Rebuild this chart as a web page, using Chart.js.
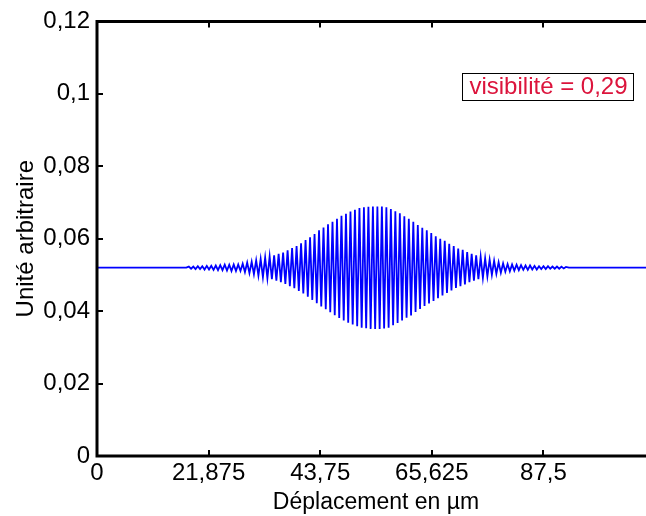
<!DOCTYPE html>
<html>
<head>
<meta charset="utf-8">
<script src="https://cdn.jsdelivr.net/npm/chart.js@4"></script>
<style>
  html, body { margin:0; padding:0; background:#fff; overflow:hidden; }
  #wrap { width:646px; height:516px; overflow:hidden; }
  canvas { display:block; }
</style>
</head>
<body>
<div id="wrap"><canvas id="c" width="660" height="516"></canvas></div>
<script>
/* global Chart */

// ---------- DATA ----------
// axis ticks (the plot is cut on the right, 109,375 falls outside the picture)
const xTicks      = [0, 21.875, 43.75, 65.625, 87.5, 109.375];
const xTickLabels = ['0', '21,875', '43,75', '65,625', '87,5', ''];
const yTicks      = [0, 0.02, 0.04, 0.06, 0.08, 0.1, 0.12];
const yTickLabels = ['0', '0,02', '0,04', '0,06', '0,08', '0,1', '0,12'];

// flat signal outside the fringe packet
const flatX = [0, 17.5, 92.5, 109.375];
const flatY = [0.0520, 0.0520, 0.0520, 0.0520];

// fringe extremes, one sample every 0.44 µm starting at 18 µm (max, min, max, …)
const fringeStart = 18;
const fringeStep  = 0.44;
const fringeY = [
  0.0523, 0.0517, 0.0523, 0.0516, 0.0524, 0.0516, 0.0524, 0.0515, 0.0525, 0.0515,
  0.0525, 0.0514, 0.0526, 0.0513, 0.0527, 0.0513, 0.0528, 0.0512, 0.0528, 0.0511,
  0.0529, 0.0511, 0.0529, 0.0511, 0.0531, 0.0508, 0.0534, 0.0505, 0.0536, 0.0502,
  0.0540, 0.0498, 0.0544, 0.0494, 0.0548, 0.0491, 0.0551, 0.0488, 0.0554, 0.0484,
  0.0558, 0.0480, 0.0562, 0.0475, 0.0568, 0.0469, 0.0574, 0.0463, 0.0580, 0.0456,
  0.0587, 0.0449, 0.0596, 0.0440, 0.0604, 0.0431, 0.0613, 0.0422, 0.0623, 0.0413,
  0.0631, 0.0405, 0.0640, 0.0397, 0.0647, 0.0389, 0.0655, 0.0381, 0.0663, 0.0374,
  0.0669, 0.0368, 0.0675, 0.0363, 0.0680, 0.0358, 0.0685, 0.0354, 0.0687, 0.0353,
  0.0688, 0.0351, 0.0689, 0.0351, 0.0689, 0.0351, 0.0689, 0.0352, 0.0687, 0.0354,
  0.0682, 0.0361, 0.0676, 0.0367, 0.0670, 0.0374, 0.0662, 0.0382, 0.0655, 0.0388,
  0.0647, 0.0398, 0.0638, 0.0406, 0.0630, 0.0414, 0.0623, 0.0421, 0.0616, 0.0428,
  0.0607, 0.0436, 0.0600, 0.0443, 0.0594, 0.0450, 0.0586, 0.0457, 0.0580, 0.0464,
  0.0573, 0.0469, 0.0569, 0.0474, 0.0563, 0.0480, 0.0558, 0.0484, 0.0554, 0.0488,
  0.0550, 0.0492, 0.0546, 0.0496, 0.0542, 0.0500, 0.0539, 0.0503, 0.0535, 0.0506,
  0.0532, 0.0509, 0.0530, 0.0510, 0.0529, 0.0512, 0.0528, 0.0513, 0.0527, 0.0514,
  0.0526, 0.0514, 0.0526, 0.0515, 0.0525, 0.0515, 0.0524, 0.0516, 0.0524, 0.0516,
  0.0524, 0.0517, 0.0523, 0.0517, 0.0523, 0.0517, 0.0523, 0.0518, 0.0522
];

const annotationText = 'visibilité = 0,29';

// ---------- build points ----------
const points = [];
points.push({ x: flatX[0], y: flatY[0] }, { x: flatX[1], y: flatY[1] });
fringeY.forEach((v, i) => points.push({ x: fringeStart + i * fringeStep, y: v }));
points.push({ x: flatX[2], y: flatY[2] }, { x: flatX[3], y: flatY[3] });

const FONT = '"Liberation Sans", Arial, sans-serif';

// box, inward ticks and the visibility label
const framePlugin = {
  id: 'frame',
  afterDraw (chart) {
    const { ctx, chartArea: { left, top, right, bottom }, scales: { x, y } } = chart;
    ctx.save();
    ctx.strokeStyle = '#000';
    ctx.lineWidth = 3;
    ctx.beginPath();
    ctx.moveTo(right + 2, top); ctx.lineTo(left, top);
    ctx.lineTo(left, bottom); ctx.lineTo(right + 2, bottom);
    ctx.stroke();

    ctx.lineWidth = 2;
    ctx.beginPath();
    xTicks.forEach(v => {
      const px = Math.round(x.getPixelForValue(v));
      ctx.moveTo(px, bottom); ctx.lineTo(px, bottom - 6);
      ctx.moveTo(px, top);    ctx.lineTo(px, top + 6);
    });
    yTicks.forEach(v => {
      const py = Math.round(y.getPixelForValue(v));
      ctx.moveTo(left, py); ctx.lineTo(left + 6, py);
    });
    ctx.stroke();

    // label box
    const bx = 462, by = 73, bw = 171, bh = 27;
    ctx.lineWidth = 1;
    ctx.fillStyle = '#fff';
    ctx.fillRect(bx, by, bw, bh);
    ctx.strokeRect(bx + 0.5, by + 0.5, bw, bh);
    ctx.fillStyle = 'rgb(220,20,60)';
    ctx.font = '24px ' + FONT;
    ctx.textAlign = 'center';
    ctx.textBaseline = 'middle';
    ctx.fillText(annotationText, bx + bw / 2 + 1, by + bh / 2 + 1);
    ctx.restore();
  }
};

new Chart(document.getElementById('c').getContext('2d'), {
  type: 'line',
  data: {
    datasets: [{
      data: points,
      borderColor: '#0000ff',
      borderWidth: 1.8,
      pointRadius: 0,
      tension: 0,
      fill: false
    }]
  },
  options: {
    responsive: false,
    animation: false,
    devicePixelRatio: 1,
    layout: { padding: { left: 0, top: 19, right: 5, bottom: 0 } },
    plugins: { legend: { display: false }, tooltip: { enabled: false } },
    scales: {
      x: {
        type: 'linear',
        min: 0, max: 109.375,
        afterBuildTicks: s => { s.ticks = xTicks.map(v => ({ value: v })); },
        afterFit: s => { s.height = 60; },
        grid: { display: false, drawTicks: false },
        border: { display: false },
        ticks: {
          autoSkip: false, maxRotation: 0, padding: 3,
          color: '#000', font: { family: FONT, size: 24 },
          callback: (v, i) => xTickLabels[i]
        },
        title: {
          display: true, text: 'Déplacement en µm', color: '#000',
          font: { family: FONT, size: 23 }, padding: { top: 0, bottom: 0 }
        }
      },
      y: {
        min: 0, max: 0.12,
        afterBuildTicks: s => { s.ticks = yTicks.map(v => ({ value: v })); },
        afterFit: s => { s.width = 97; },
        grid: { display: false, drawTicks: false },
        border: { display: false },
        ticks: {
          autoSkip: false, padding: 7,
          color: '#000', font: { family: FONT, size: 24 },
          callback: (v, i) => yTickLabels[i]
        },
        title: {
          display: true, text: 'Unité arbitraire', color: '#000',
          font: { family: FONT, size: 24 }, padding: { top: 12, bottom: 0 }
        }
      }
    }
  },
  plugins: [framePlugin]
});
</script>
</body>
</html>
